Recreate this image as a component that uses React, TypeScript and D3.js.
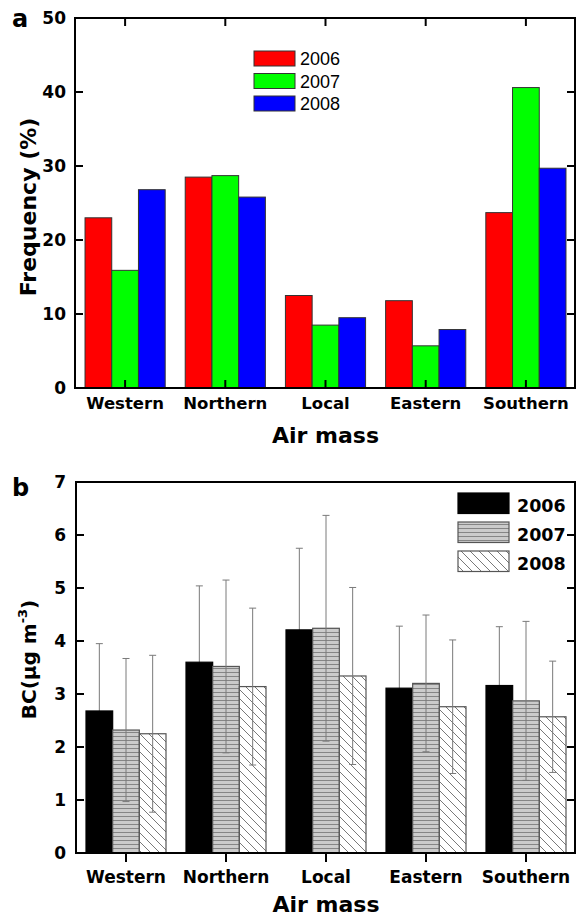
import React from "react";
import * as d3 from "d3";

const categories = ["Western", "Northern", "Local", "Eastern", "Southern"];
const years = ["2006", "2007", "2008"];

// Panel a: frequency (%)
const freq2006 = [23.0, 28.5, 12.5, 11.8, 23.7];
const freq2007 = [15.9, 28.7, 8.5, 5.7, 40.6];
const freq2008 = [26.8, 25.8, 9.5, 7.9, 29.7];
const freqTicks = [0, 10, 20, 30, 40, 50];

// Panel b: BC mean and standard deviation
const bc2006 = [2.68, 3.6, 4.21, 3.11, 3.16];
const bc2007 = [2.32, 3.52, 4.24, 3.2, 2.87];
const bc2008 = [2.25, 3.14, 3.34, 2.76, 2.57];
const sd2006 = [1.27, 1.44, 1.54, 1.17, 1.11];
const sd2007 = [1.35, 1.63, 2.13, 1.29, 1.5];
const sd2008 = [1.48, 1.48, 1.67, 1.26, 1.05];
const bcTicks = [0, 1, 2, 3, 4, 5, 6, 7];

const freqSeries = [freq2006, freq2007, freq2008];
const bcSeries = [bc2006, bc2007, bc2008];
const sdSeries = [sd2006, sd2007, sd2008];

const colorsA = ["#ff0000", "#00ff00", "#0000ff"];
const fillsB = ["#000000", "url(#hstripe)", "url(#dhatch)"];
const strokesB = ["#000000", "#555555", "#555555"];

const BOLD = "'DejaVu Sans', sans-serif";
const ARIAL = "'Liberation Sans', Arial, sans-serif";

export default function App() {
  // Panel a geometry
  const aL = 75, aR = 576, aT = 18, aB = 388;
  const x0a = d3.scaleBand<string>().domain(categories).range([aL, aR]).paddingInner(0.2).paddingOuter(0.1);
  const x1a = d3.scaleBand<string>().domain(years).range([0, x0a.bandwidth()]);
  const ya = d3.scaleLinear().domain([0, 50]).range([aB, aT]);

  // Panel b geometry
  const bL = 76, bR = 576, bT = 482, bB = 853;
  const x0b = d3.scaleBand<string>().domain(categories).range([bL, bR]).paddingInner(0.2).paddingOuter(0.1);
  const x1b = d3.scaleBand<string>().domain(years).range([0, x0b.bandwidth()]);
  const yb = d3.scaleLinear().domain([0, 7]).range([bB, bT]);

  const centerA = (c: string) => (x0a(c) as number) + x0a.bandwidth() / 2;
  const centerB = (c: string) => (x0b(c) as number) + x0b.bandwidth() / 2;

  const errBar = (si: number, ci: number, key: string) => {
    const c = categories[ci];
    const m = bcSeries[si][ci];
    const s = sdSeries[si][ci];
    const cx = (x0b(c) as number) + (x1b(years[si]) as number) + x1b.bandwidth() / 2;
    const y1 = yb(m + s);
    const y2 = yb(m - s);
    return (
      <g key={key} stroke="#7a7a7a" strokeWidth={1}>
        <line x1={cx} x2={cx} y1={y1} y2={y2} />
        <line x1={cx - 3.5} x2={cx + 3.5} y1={y1} y2={y1} />
        <line x1={cx - 3.5} x2={cx + 3.5} y1={y2} y2={y2} />
      </g>
    );
  };

  return (
    <svg
      width={576}
      height={919}
      style={{ position: "absolute", left: 0, top: 0, background: "#fff" }}
    >
      <defs>
        <pattern id="hstripe" patternUnits="userSpaceOnUse" width={8} height={4}>
          <rect width={8} height={4} fill="#cbcbcb" />
          <line x1={0} x2={8} y1={0.5} y2={0.5} stroke="#858585" strokeWidth={1} />
        </pattern>
        <pattern id="dhatch" patternUnits="userSpaceOnUse" width={9} height={9}>
          <rect width={9} height={9} fill="#ffffff" />
          <path d="M-1,-1 L10,10 M-1,8 L1,10 M8,-1 L10,1" stroke="#6a6a6a" strokeWidth={0.9} />
        </pattern>
      </defs>

      {/* ---------------- Panel a ---------------- */}
      <text x={12} y={27} fontFamily={BOLD} fontWeight="bold" fontSize={24}>a</text>

      {categories.map((c, ci) =>
        years.map((yr, si) => {
          const v = freqSeries[si][ci];
          return (
            <rect
              key={`a-${c}-${yr}`}
              x={(x0a(c) as number) + (x1a(yr) as number)}
              y={ya(v)}
              width={x1a.bandwidth()}
              height={aB - ya(v)}
              fill={colorsA[si]}
              stroke="#333"
              strokeWidth={1}
            />
          );
        })
      )}

      {/* frame */}
      <rect x={aL} y={aT} width={aR - aL - 1} height={aB - aT} fill="none" stroke="#000" strokeWidth={2} />
      {freqTicks.map((t) => (
        <g key={`ya-${t}`}>
          <line x1={aL} x2={aL + 8} y1={ya(t)} y2={ya(t)} stroke="#000" strokeWidth={2} />
          <line x1={aR - 1} x2={aR - 9} y1={ya(t)} y2={ya(t)} stroke="#000" strokeWidth={2} />
          <text x={66} y={ya(t) + 6} textAnchor="end" fontFamily={BOLD} fontWeight="bold" fontSize={17}>
            {t}
          </text>
        </g>
      ))}
      {categories.map((c) => (
        <g key={`xa-${c}`}>
          <line x1={centerA(c)} x2={centerA(c)} y1={aB} y2={aB - 8} stroke="#000" strokeWidth={2} />
          <line x1={centerA(c)} x2={centerA(c)} y1={aT} y2={aT + 8} stroke="#000" strokeWidth={2} />
          <text x={centerA(c)} y={409} textAnchor="middle" fontFamily={BOLD} fontWeight="bold" fontSize={16.5}>
            {c}
          </text>
        </g>
      ))}
      <text x={(aL + aR) / 2} y={443} textAnchor="middle" fontFamily={BOLD} fontWeight="bold" fontSize={22}>
        Air mass
      </text>
      <text
        transform={`translate(36,${(aT + aB) / 2 + 4}) rotate(-90)`}
        textAnchor="middle"
        fontFamily={BOLD}
        fontWeight="bold"
        fontSize={22}
      >
        Frequency (%)
      </text>
      {years.map((yr, si) => (
        <g key={`la-${yr}`}>
          <rect x={254} y={51 + si * 22.5} width={41} height={15} fill={colorsA[si]} stroke="#333" strokeWidth={1} />
          <text x={300} y={65 + si * 22.5} fontFamily={ARIAL} fontSize={18}>
            {yr}
          </text>
        </g>
      ))}

      {/* ---------------- Panel b ---------------- */}
      <text x={12} y={496} fontFamily={BOLD} fontWeight="bold" fontSize={24}>b</text>

      {categories.map((c, ci) => errBar(0, ci, `e0-${c}`))}

      {categories.map((c, ci) =>
        years.map((yr, si) => {
          const v = bcSeries[si][ci];
          return (
            <rect
              key={`b-${c}-${yr}`}
              x={(x0b(c) as number) + (x1b(yr) as number)}
              y={yb(v)}
              width={x1b.bandwidth()}
              height={bB - yb(v)}
              fill={fillsB[si]}
              stroke={strokesB[si]}
              strokeWidth={1.2}
            />
          );
        })
      )}

      {categories.map((c, ci) => [1, 2].map((si) => errBar(si, ci, `e${si}-${c}`)))}

      <rect x={bL} y={bT} width={bR - bL - 1} height={bB - bT} fill="none" stroke="#000" strokeWidth={2} />
      {bcTicks.map((t) => (
        <g key={`yb-${t}`}>
          <line x1={bL} x2={bL + 8} y1={yb(t)} y2={yb(t)} stroke="#000" strokeWidth={2} />
          <line x1={bR - 1} x2={bR - 9} y1={yb(t)} y2={yb(t)} stroke="#000" strokeWidth={2} />
          <text x={66} y={yb(t) + 6} textAnchor="end" fontFamily={BOLD} fontWeight="bold" fontSize={17}>
            {t}
          </text>
        </g>
      ))}
      {categories.map((c) => (
        <g key={`xb-${c}`}>
          <line x1={centerB(c)} x2={centerB(c)} y1={bB} y2={bB + 9} stroke="#000" strokeWidth={2} />
          <text x={centerB(c)} y={883} textAnchor="middle" fontFamily={BOLD} fontWeight="bold" fontSize={17}>
            {c}
          </text>
        </g>
      ))}
      <text x={(bL + bR) / 2} y={912} textAnchor="middle" fontFamily={BOLD} fontWeight="bold" fontSize={22}>
        Air mass
      </text>
      <text
        transform={`translate(36,${(bT + bB) / 2 - 8}) rotate(-90)`}
        textAnchor="middle"
        fontFamily={BOLD}
        fontWeight="bold"
        fontSize={20}
      >
        BC(μg m<tspan fontSize={13} dy={-9}>-3</tspan><tspan dy={9}>)</tspan>
      </text>
      {years.map((yr, si) => (
        <g key={`lb-${yr}`}>
          <rect
            x={458}
            y={493 + si * 29}
            width={51}
            height={20.5}
            fill={fillsB[si]}
            stroke={strokesB[si]}
            strokeWidth={1.2}
          />
          <text x={517} y={512 + si * 29} fontFamily={BOLD} fontWeight="bold" fontSize={17.5}>
            {yr}
          </text>
        </g>
      ))}
    </svg>
  );
}
